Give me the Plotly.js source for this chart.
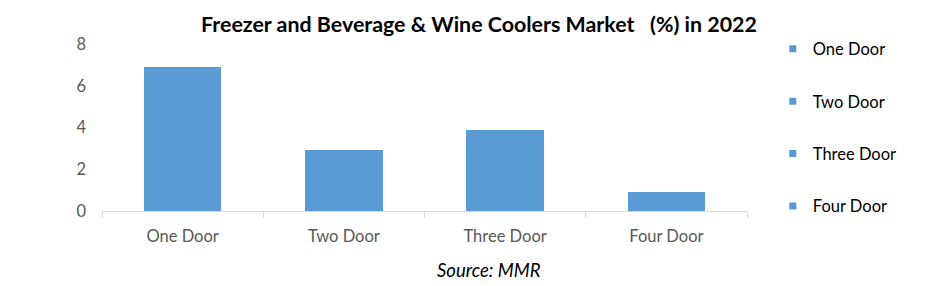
<!DOCTYPE html>
<html>
<head>
<meta charset="utf-8">
<script src="https://cdn.plot.ly/plotly-3.0.1.min.js"></script>
<style>html,body{margin:0;padding:0;background:#fff;}#chart{width:941px;height:286px;}</style>
</head>
<body>
<div id="chart"></div>
<script>
const categories = ["One Door", "Two Door", "Three Door", "Four Door"];
const values = [6.9, 2.9, 3.9, 0.9];
const yTicks = [0, 2, 4, 6, 8];
const titleText = "Freezer and Beverage &amp; Wine Coolers Market &nbsp; (%) in 2022";
const sourceText = "Source: MMR";

const barColor = "#5b9bd5";
const FONT = "Lato, 'Open Sans', sans-serif";

const traces = [];
categories.forEach((c, i) => {
  traces.push({
    type: "bar",
    x: [c],
    y: [values[i]],
    name: c,
    marker: {color: barColor},
    showlegend: false,
    hoverinfo: "x+y"
  });
});
categories.forEach((c, i) => {
  traces.push({
    type: "scatter",
    mode: "markers",
    x: [c],
    y: [null],
    name: c,
    legendgroup: "g" + i,
    marker: {color: barColor, symbol: "square", size: 7},
    showlegend: true
  });
});

const layout = {
  width: 941,
  height: 286,
  margin: {l: 102, r: 194, t: 44, b: 75},
  paper_bgcolor: "#ffffff",
  plot_bgcolor: "#ffffff",
  barmode: "stack",
  bargap: 0.52,
  font: {family: FONT, color: "#595959", size: 16},
  title: {
    text: "<b>" + titleText + "</b>",
    font: {family: FONT, size: 21.4, color: "#000000"},
    x: 0.509, xanchor: "center", xref: "container",
    y: 0.915, yanchor: "middle", yref: "container"
  },
  xaxis: {
    type: "category",
    categoryarray: categories,
    showgrid: false,
    showline: true,
    linecolor: "#d9d9d9",
    linewidth: 1,
    ticks: "outside",
    tickson: "boundaries",
    ticklen: 6,
    tickcolor: "#d9d9d9",
    ticklabelstandoff: 10,
    tickfont: {family: FONT, size: 16.5, color: "#595959"},
    zeroline: false
  },
  yaxis: {
    range: [0, 8],
    tickvals: yTicks,
    showgrid: false,
    showline: false,
    zeroline: false,
    ticks: "",
    ticklabelstandoff: 15,
    tickfont: {family: FONT, size: 16.5, color: "#595959"}
  },
  legend: {
    x: 1.04, xanchor: "left",
    y: 1.075, yanchor: "top",
    font: {family: FONT, size: 16.5, color: "#000000"},
    tracegroupgap: 28,
    itemwidth: 30,
    maxheight: 1,
    bgcolor: "rgba(0,0,0,0)"
  },
  annotations: [{
    text: "<i>" + sourceText + "</i>",
    xref: "paper", yref: "paper",
    x: 0.6, y: -0.355,
    xanchor: "center", yanchor: "middle",
    showarrow: false,
    font: {family: FONT, size: 18.5, color: "#000000"}
  }]
};

Plotly.newPlot("chart", traces, layout, {displayModeBar: false, staticPlot: true});
</script>
</body>
</html>
